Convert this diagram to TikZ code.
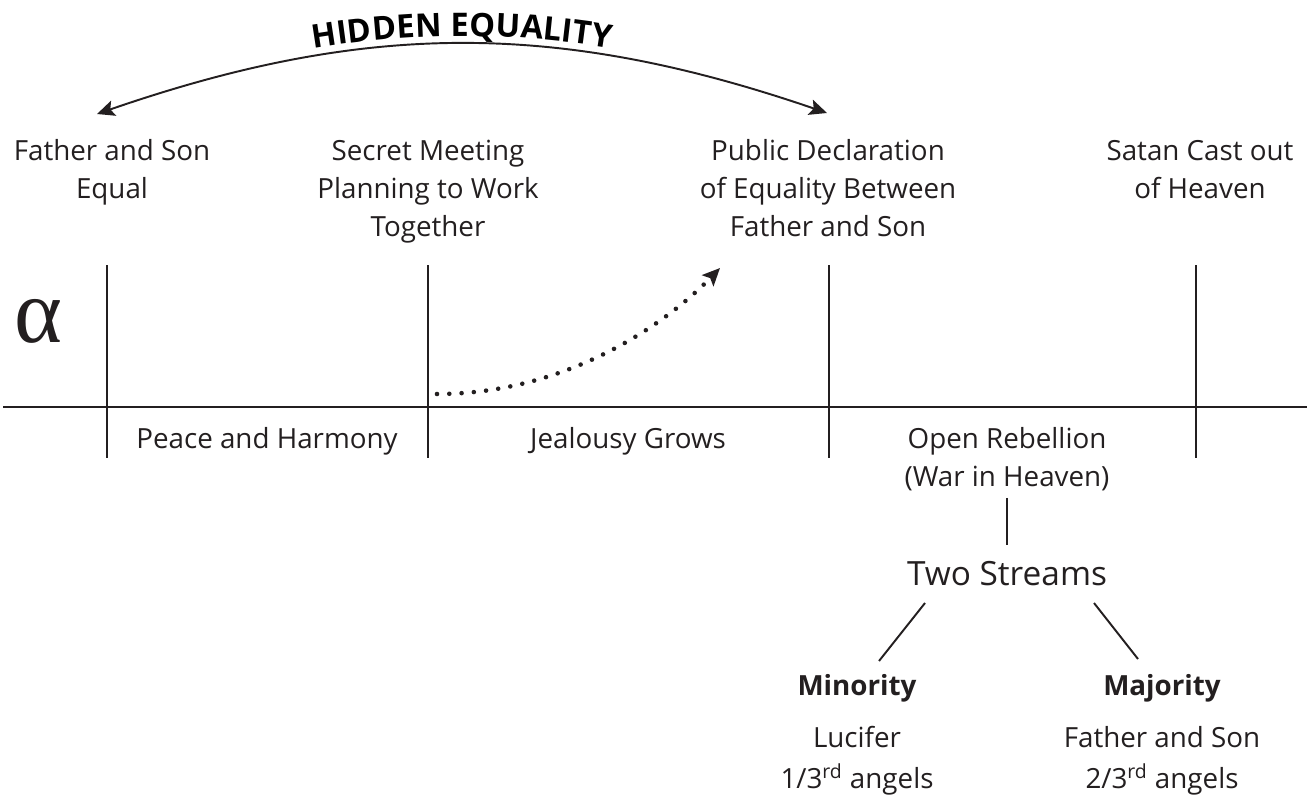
\documentclass[tikz,border=0pt]{standalone}
\usepackage{fontspec}
\setmainfont{Open Sans}
\newfontfamily\greekfont{Liberation Serif}
\usetikzlibrary{arrows.meta, positioning, calc, decorations.text}

\definecolor{ink}{HTML}{231F20}

\tikzset{
  lbl/.style={align=center, inner sep=0pt, text=ink, font=\fontsize{15.8}{21.5}\selectfont},
  big/.style={inner sep=0pt, text=ink, font=\fontsize{19}{23}\selectfont},
  tick/.style={draw=ink, line width=1.1pt},
  tip/.style={-{Stealth[length=10pt, width=9pt, inset=2pt]}},
}

\begin{document}
\begin{tikzpicture}[x=0.02cm, y=-0.02cm]
\useasboundingbox (0,0) rectangle (1307,808);

% time line
\coordinate (axL) at (3,407);
\coordinate (axR) at (1307,407);
\draw[tick, line width=1.3pt] (axL) -- (axR);
\foreach \x in {107,428,829,1196}
  \draw[tick] (\x,265) -- (\x,458);

\node[inner sep=0pt, text=ink, font=\greekfont\fontsize{52}{52}\selectfont] (alp) at (38,321) {α};

% events above the line (base = last line)
\node[lbl, anchor=base] (fse) at (112,198) {Father and Son\\Equal};
\node[lbl, anchor=base] (smp) at (428,236) {Secret Meeting\\Planning to Work\\Together};
\node[lbl, anchor=base] (pde) at (828,236) {Public Declaration\\of Equality Between\\Father and Son};
\node[lbl, anchor=base] (sco) at (1200,198) {Satan Cast out\\of Heaven};

% periods below the line
\node[lbl, anchor=base] (pah) at (267,448) {Peace and Harmony};
\node[lbl, anchor=base] (jgr) at (628,448) {Jealousy Grows};
\node[lbl, anchor=base] (orb) at (1007,486) {Open Rebellion\\(War in Heaven)};

\node[big, anchor=base] (tws) at (1007,585) {Two Streams};
\draw[tick] ([yshift=-4pt]orb.south) -- ([yshift=9pt]tws.north);

\node[lbl, anchor=base] (mino) at (857,695) {\bfseries Minority};
\node[lbl, anchor=base] (luc) at (857,747) {Lucifer};
\node[lbl, anchor=base] (mia) at (857,788) {1/3\textsuperscript{rd} angels};
\node[lbl, anchor=base] (majo) at (1162,695) {\bfseries Majority};
\node[lbl, anchor=base] (fas) at (1162,747) {Father and Son};
\node[lbl, anchor=base] (maa) at (1162,788) {2/3\textsuperscript{rd} angels};

\coordinate (lsA) at (925,603);
\coordinate (lsB) at (879,661);
\coordinate (rsA) at (1094,603);
\coordinate (rsB) at (1138,659);
\draw[tick] (lsA) -- (lsB);
\draw[tick] (rsA) -- (rsB);

% hidden equality
\coordinate (heL) at (97,114);
\coordinate (heR) at (827,113);
\draw[draw=ink, line width=1.1pt, {Stealth[length=10pt, width=9pt, inset=2pt]}-{Stealth[length=10pt, width=9pt, inset=2pt]}]
  (heL) to[bend left=19] (heR);
\path[decorate, decoration={text along path, text align=center, raise=4.5pt,
  text={|\fontsize{18.5}{18.5}\selectfont\bfseries|HIDDEN EQUALITY}}]
  (heL) to[bend left=19] (heR);

% jealousy leads to declaration
\coordinate (dotA) at (437,394);
\coordinate (dotB) at (720,268);
\draw[draw=ink, line width=2.6pt, line cap=round, dash pattern=on 0pt off 7pt, tip]
  (dotA) .. controls (560,394) and (660,330) .. (dotB);
\end{tikzpicture}
\end{document}
